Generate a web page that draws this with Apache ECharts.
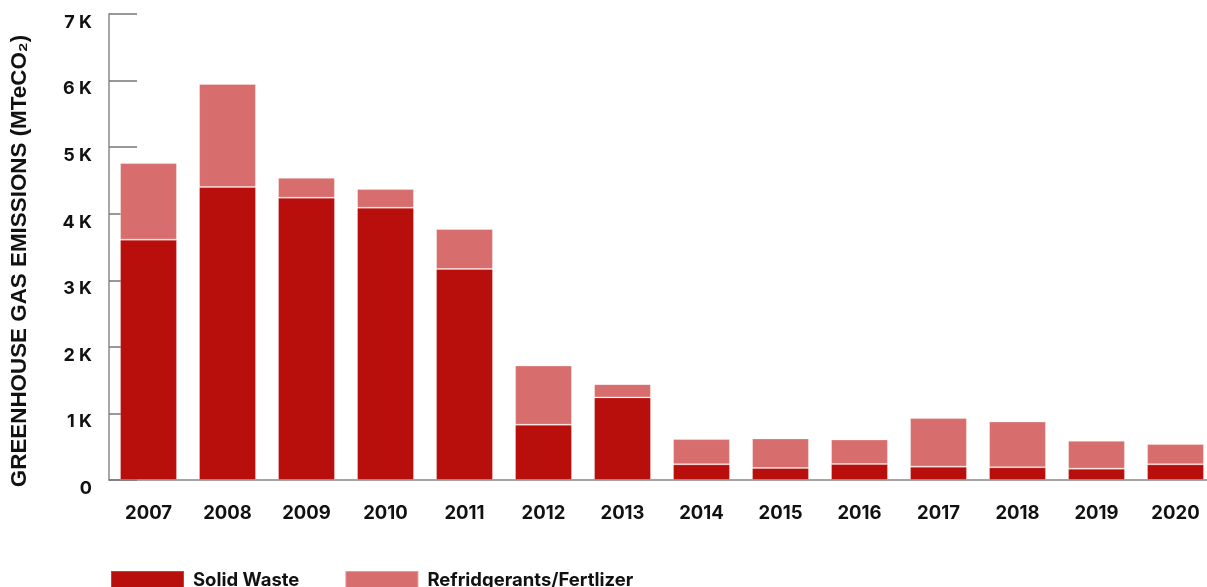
<!DOCTYPE html>
<html>
<head>
<meta charset="utf-8">
<script src="https://cdn.jsdelivr.net/npm/echarts@6/dist/echarts.min.js"></script>
<style>html,body{margin:0;padding:0;background:#fff;}#c{width:1207px;height:587px;}</style>
</head>
<body>
<div id="c"></div>
<script>
const categories = ['2007','2008','2009','2010','2011','2012','2013','2014','2015','2016','2017','2018','2019','2020'];
const solidWaste = [3610, 4400, 4240, 4090, 3170, 830, 1240, 235, 180, 240, 200, 190, 170, 235];
const refrigerantsFertilizer = [1150, 1550, 300, 280, 600, 890, 200, 380, 445, 370, 730, 690, 420, 305];
const yTicks = [0, 1000, 2000, 3000, 4000, 5000, 6000, 7000];
const yTitle = 'GREENHOUSE GAS EMISSIONS (MTeCO₂)';

const chart = echarts.init(document.getElementById('c'), null, {renderer: 'canvas'});
const font = 'Inter, "Noto Sans", sans-serif';
chart.setOption({
  animation: false,
  textStyle: {fontFamily: font},
  grid: {left: 109, right: -8, top: 14, bottom: 107, containLabel: false, outerBoundsMode: 'none'},
  graphic: [{
    type: 'text', x: 20, y: 261, rotation: Math.PI / 2,
    style: {text: yTitle, fontFamily: '"Liberation Sans", Arial, sans-serif', fontWeight: 'bold', fontSize: 22.4,
            fill: '#111', align: 'center', verticalAlign: 'middle'}
  }],
  legend: {
    left: 105, top: 565, itemWidth: 73, itemHeight: 18, itemGap: 45,
    icon: 'rect',
    textStyle: {fontFamily: font, fontWeight: 'bold', fontSize: 18.5, color: '#111', padding: [0, 0, 0, 4]},
    data: ['Solid Waste', 'Refridgerants/Fertlizer']
  },
  xAxis: {
    type: 'category', data: categories,
    axisLine: {show: true, lineStyle: {color: '#888', width: 1.5}},
    axisTick: {show: false},
    axisLabel: {fontFamily: font, fontWeight: 'bold', fontSize: 18.5, color: '#111', margin: 24}
  },
  yAxis: {
    type: 'value', min: yTicks[0], max: yTicks[yTicks.length - 1], interval: 1000,
    axisLine: {show: true, lineStyle: {color: '#888', width: 1.5}},
    axisTick: {show: true, inside: true, length: 28, lineStyle: {color: '#777', width: 1.5}},
    splitLine: {show: false},
    axisLabel: {
      fontFamily: font, fontWeight: 'bold', fontSize: 18, color: '#111', margin: 17,
      verticalAlign: 'top', lineHeight: 17,
      formatter: v => v === 0 ? '0' : (v / 1000) + ' K'
    }
  },
  series: [
    {
      name: 'Solid Waste', type: 'bar', stack: 'total', data: solidWaste,
      barCategoryGap: '28%',
      itemStyle: {color: '#B80F0C', borderColor: 'rgba(255,255,255,0.2)', borderWidth: 1}
    },
    {
      name: 'Refridgerants/Fertlizer', type: 'bar', stack: 'total', data: refrigerantsFertilizer,
      barCategoryGap: '28%',
      itemStyle: {color: '#D76E6D', borderColor: 'rgba(255,255,255,0.3)', borderWidth: 1}
    }
  ]
});
</script>
</body>
</html>
